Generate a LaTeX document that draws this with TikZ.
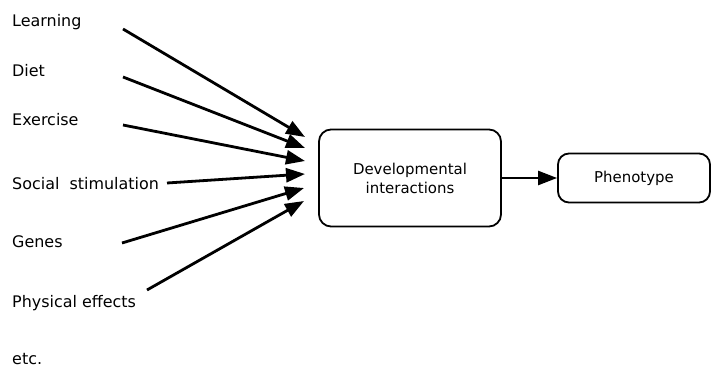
\documentclass[tikz,border=0pt]{standalone}
\usepackage{fontspec}
\setmainfont{DejaVu Sans}
\usetikzlibrary{arrows.meta}
\begin{document}
\begin{tikzpicture}[>={Triangle[length=19bp,width=14bp]},font=\fontsize{16}{19}\selectfont]
  \useasboundingbox (0bp,0bp) rectangle (711bp,367bp);
  \node (Learning) at (12bp,340bp) [anchor=base west,inner sep=0pt] {Learning};
  \node (Diet) at (12bp,290bp) [anchor=base west,inner sep=0pt] {Diet};
  \node (Exercise) at (12bp,241bp) [anchor=base west,inner sep=0pt] {Exercise};
  \node (Social) at (12bp,177bp) [anchor=base west,inner sep=0pt] {Social\ \ stimulation};
  \node (Genes) at (12bp,119bp) [anchor=base west,inner sep=0pt] {Genes};
  \node (Physical) at (12bp,59bp) [anchor=base west,inner sep=0pt] {Physical effects};
  \node (etc) at (12bp,3bp) [anchor=base west,inner sep=0pt] {etc.};
  \node (Dev) at (410bp,189bp) [draw,rectangle,rounded corners=12bp,line width=1.8bp,minimum width=182bp,minimum height=97bp,align=center,font=\fontsize{15}{19}\selectfont] {Developmental\\interactions};
  \node (Pheno) at (634bp,189bp) [draw,rectangle,rounded corners=11bp,line width=1.8bp,minimum width=152bp,minimum height=49bp,font=\fontsize{15}{19}\selectfont] {Phenotype};
  \coordinate (Learning-out) at (123bp,338bp);
  \coordinate (Diet-out) at (123bp,290bp);
  \coordinate (Exercise-out) at (123bp,242bp);
  \coordinate (Social-out) at (167bp,184bp);
  \coordinate (Genes-out) at (122bp,124bp);
  \coordinate (Physical-out) at (147bp,77bp);
  \coordinate (in1) at (305bp,230bp);
  \coordinate (in2) at (305bp,219bp);
  \coordinate (in3) at (305bp,206bp);
  \coordinate (in4) at (305bp,193bp);
  \coordinate (in5) at (304bp,179bp);
  \coordinate (in6) at (304bp,166bp);
  \draw [->,line width=2.8bp] (Learning-out) -- (in1);
  \draw [->,line width=2.8bp] (Diet-out) -- (in2);
  \draw [->,line width=2.8bp] (Exercise-out) -- (in3);
  \draw [->,line width=2.8bp] (Social-out) -- (in4);
  \draw [->,line width=2.8bp] (Genes-out) -- (in5);
  \draw [->,line width=2.8bp] (Physical-out) -- (in6);
  \draw [->,line width=2.4bp] (Dev) -- (Pheno);
\end{tikzpicture}
\end{document}
